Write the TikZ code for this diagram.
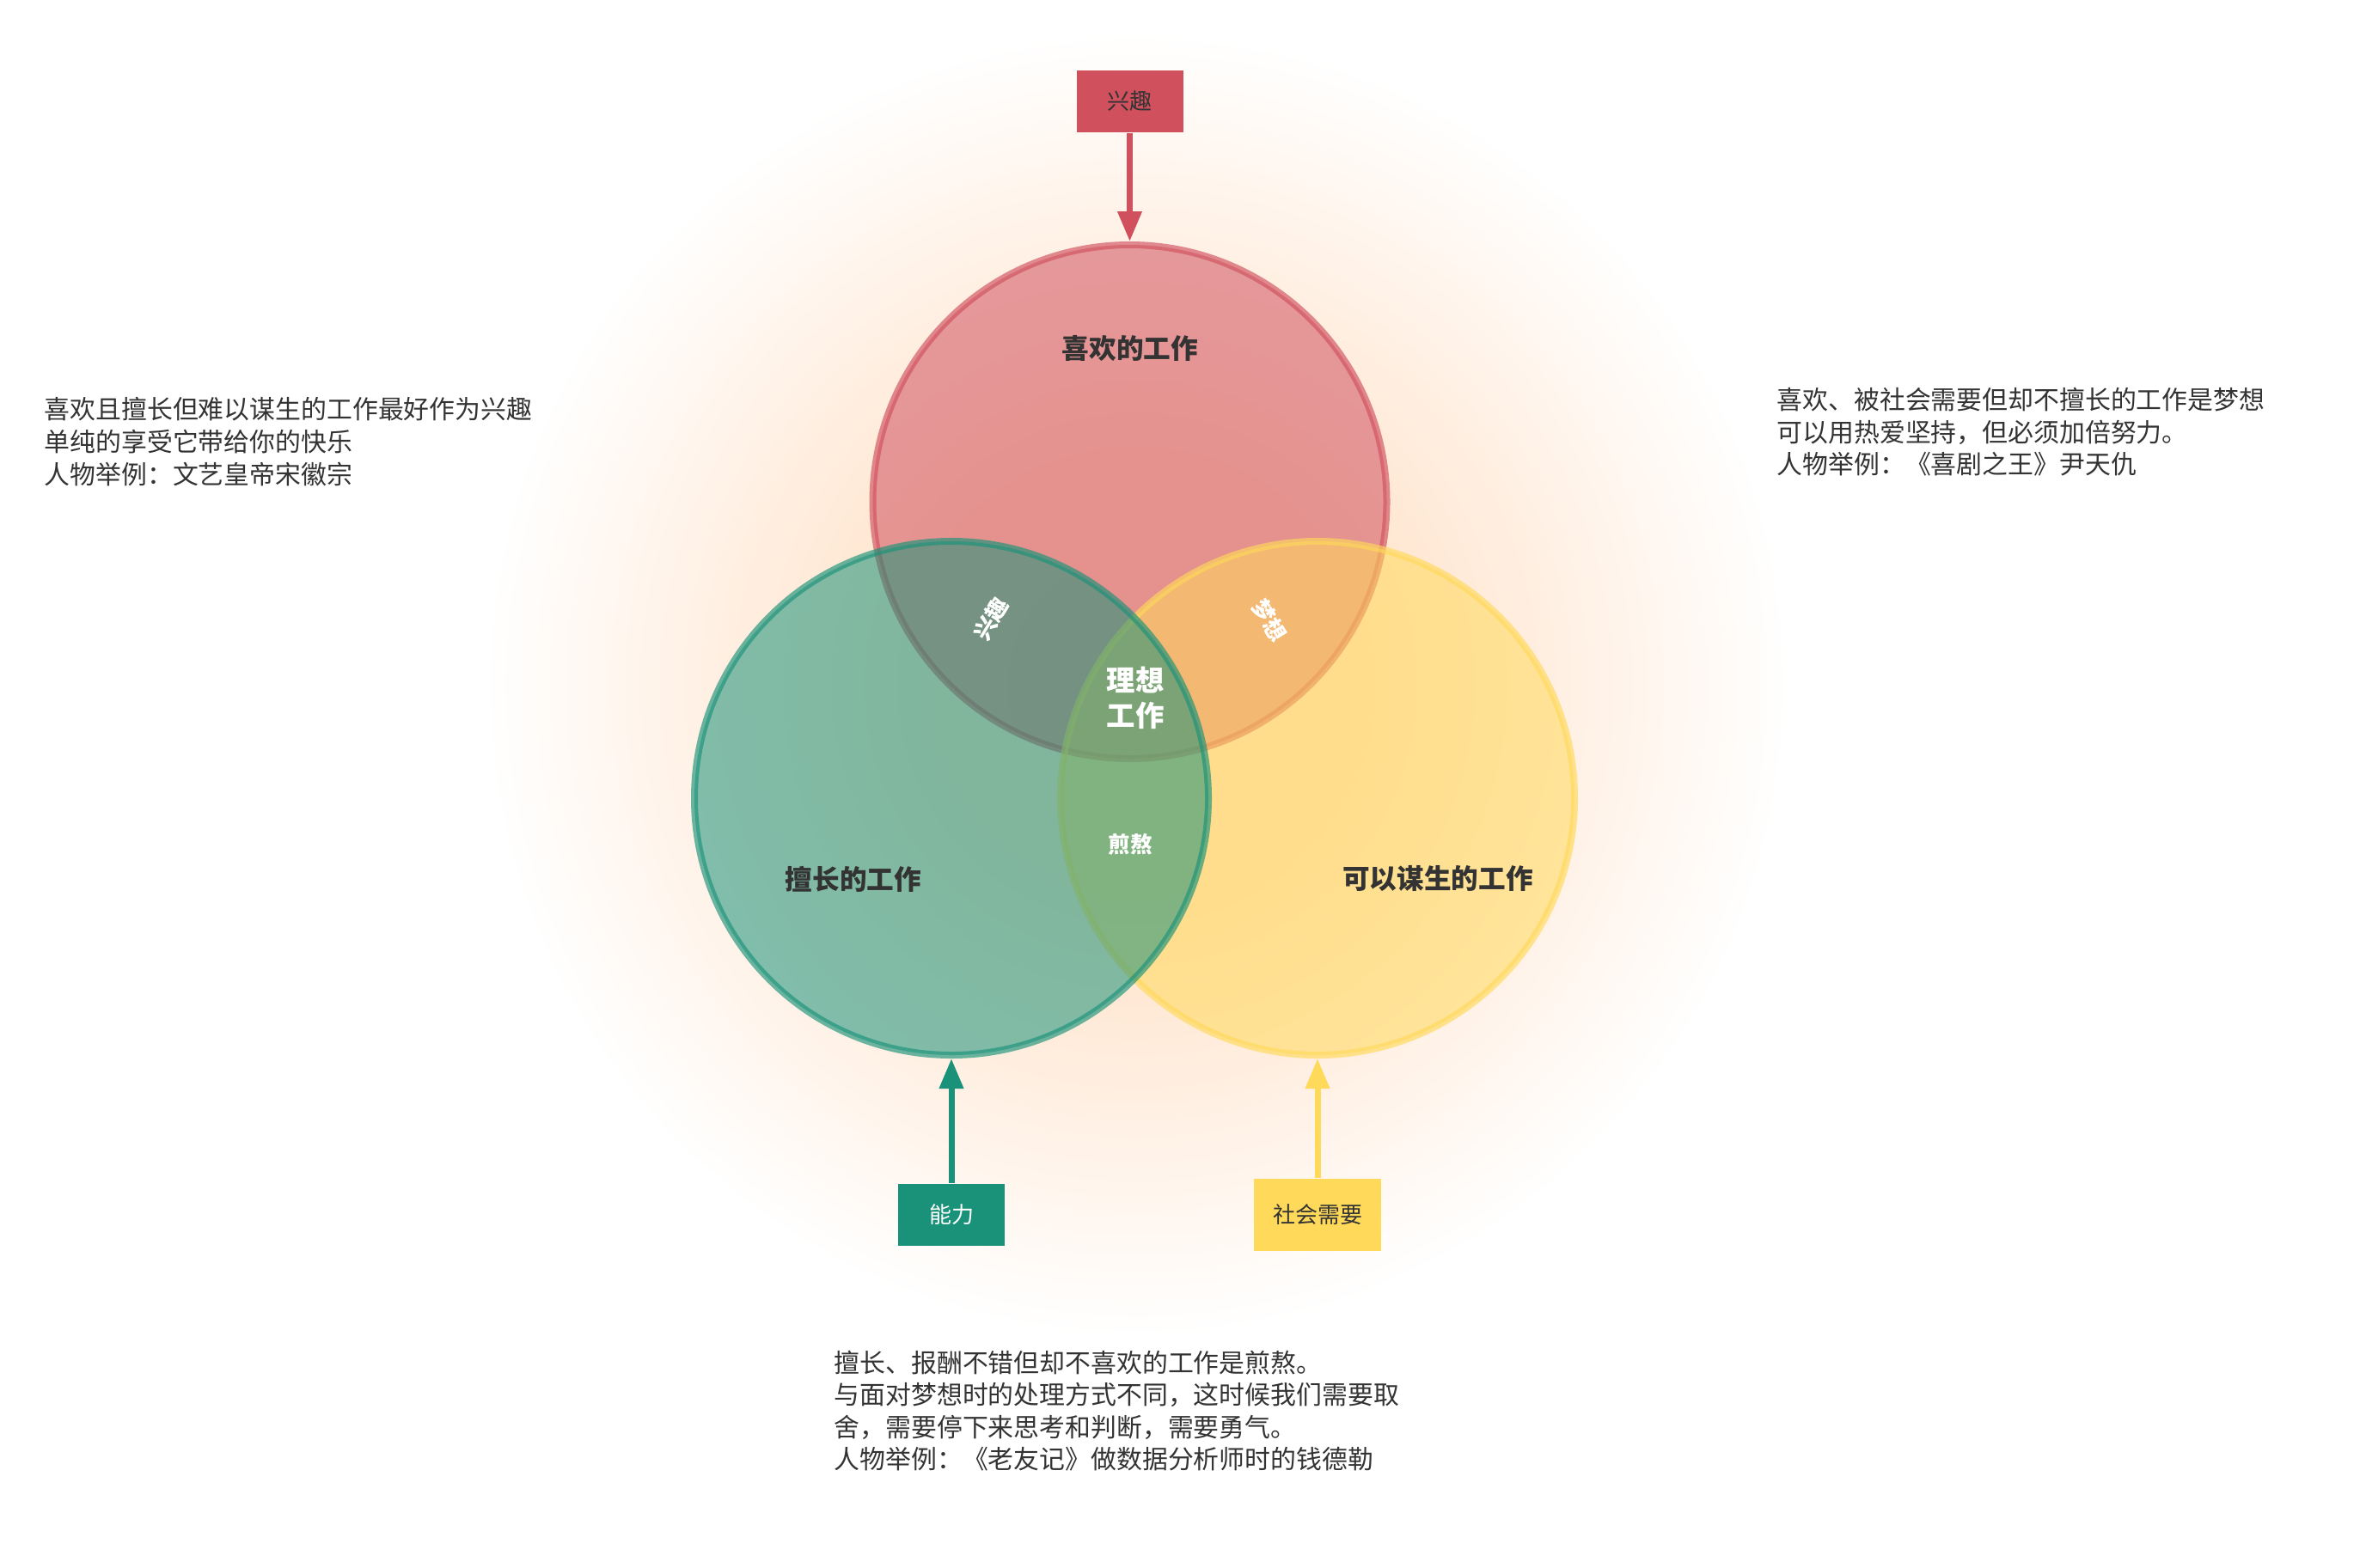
\documentclass[tikz,border=0pt]{standalone}
\usepackage{fontspec}
\setmainfont{Noto Sans CJK SC}
\usetikzlibrary{arrows.meta}

\pgfdeclareradialshading{glow}{\pgfpoint{0cm}{0cm}}{rgb(0bp)=(1,0.88,0.78); rgb(9bp)=(1,0.895,0.8); rgb(17bp)=(1,0.945,0.9); rgb(25bp)=(1,1,1); rgb(50bp)=(1,1,1)}

\begin{document}
\begin{tikzpicture}[
    every node/.style={font=\fontsize{8.5}{10.7}\selectfont},
    ring/.style={
        circle,
        minimum size=5.98cm,
        line width=0.08cm,
        fill opacity=0.55,
        draw opacity=0.65
    },
    tagbox/.style={
        rectangle,
        minimum width=1.24cm,
        minimum height=0.72cm,
        font=\fontsize{7.4}{9}\selectfont
    },
    title/.style={text=darktext, font=\bfseries\fontsize{9}{11}\selectfont},
    cut/.style={text=white, font=\bfseries\fontsize{7.3}{9}\selectfont},
    note/.style={anchor=west, align=left, inner sep=0pt, text=darktext},
    arr/.style={-{Triangle[length=0.35cm, width=0.27cm]}, line width=0.07cm}
]

\definecolor{heartred}{RGB}{208, 80, 94}
\definecolor{skillgreen}{RGB}{26, 146, 121}
\definecolor{needyellow}{RGB}{255, 217, 90}
\definecolor{darktext}{RGB}{51, 51, 51}

\useasboundingbox (0, 0) rectangle (27.46, -18.24);
\fill[white] (0, 0) rectangle (27.46, -18.24);
\shade[shading=glow] (13.22, -7.97) circle (7.6);

% three circles
\node[ring, fill=heartred, draw=heartred] (like) at (13.145, -5.84) {};
\node[ring, fill=needyellow, draw=needyellow] (need) at (15.33, -9.29) {};
\node[ring, fill=skillgreen, draw=skillgreen] (good) at (11.07, -9.29) {};

\node[title] (liketext) at (13.15, -4.05) {喜欢的工作};
\node[title] (goodtext) at (9.93, -10.23) {擅长的工作};
\node[title] (needtext) at (16.73, -10.23) {可以谋生的工作};
\node[text=white, font=\bfseries\fontsize{9.5}{11.7}\selectfont, align=center] (ideal) at (13.21, -8.12) {理想\\工作};
\node[cut, rotate=59, inner sep=1pt] (hobby) at (11.53, -7.20) {兴趣};
\node[cut, rotate=-58, inner sep=1pt] (dream) at (14.77, -7.22) {梦想};
\node[cut] (grind) at (13.15, -9.83) {煎熬};

% boxes and arrows
\node[tagbox, fill=heartred, text=darktext] (xq) at (13.145, -1.18) {兴趣};
\node[tagbox, fill=skillgreen, text=white] (nl) at (11.07, -14.135) {能力};
\node[tagbox, fill=needyellow, text=darktext, minimum width=1.48cm, minimum height=0.84cm] (sh) at (15.33, -14.14) {社会需要};

\draw[arr, heartred] (xq) -- (like);
\draw[arr, skillgreen] (nl) -- (good);
\draw[arr, needyellow] (sh) -- (need);

% notes
\node[note] (leftnote) at (0.51, -5.14) {喜欢且擅长但难以谋生的工作最好作为兴趣\\单纯的享受它带给你的快乐\\人物举例：文艺皇帝宋徽宗};
\node[note] (rightnote) at (20.67, -5.03) {喜欢、被社会需要但却不擅长的工作是梦想\\可以用热爱坚持，但必须加倍努力。\\人物举例：《喜剧之王》尹天仇};
\node[note] (bottomnote) at (9.70, -16.42) {擅长、报酬不错但却不喜欢的工作是煎熬。\\与面对梦想时的处理方式不同，这时候我们需要取\\舍，需要停下来思考和判断，需要勇气。\\人物举例：《老友记》做数据分析师时的钱德勒};

\end{tikzpicture}
\end{document}
